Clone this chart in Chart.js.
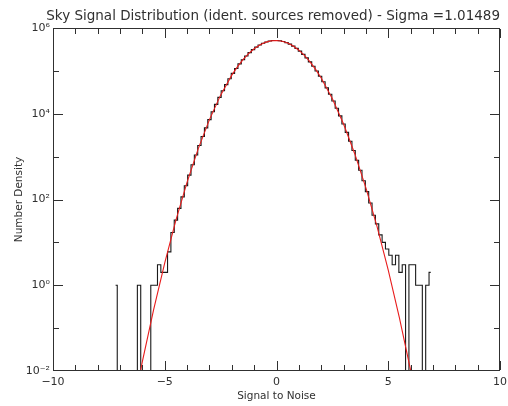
<!DOCTYPE html>
<html><head><meta charset="utf-8">
<script src="https://cdn.jsdelivr.net/npm/chart.js@4.4.0/dist/chart.umd.min.js"></script>
<style>html,body{margin:0;padding:0;background:#fff;}#wrap{width:508px;height:406px;position:relative;}</style>
</head><body><div id="wrap"><canvas id="c"></canvas></div>
<script>
const titleText = 'Sky Signal Distribution (ident. sources removed) - Sigma =1.01489';
const xAxisTitle = 'Signal to Noise';
const yAxisTitle = 'Number Density';

// histogram bins (centres start at binStart, spaced binWidth)
const binStart = -7.2;
const binWidth = 0.15;
const histCounts = [
  1, 0, 0, 0, 0, 0, 0, 1, 0, 0,
  0, 1, 1, 3, 2, 2, 6, 17, 33, 62,
  115, 209, 371, 644, 1093, 1815, 2949, 4690, 7295, 11104,
  16539, 24095, 34350, 47890, 65370, 87300, 114020, 145750, 182300, 222970,
  266900, 312600, 358200, 401500, 440500, 472600, 496300, 509800, 512400, 503900,
  484800, 456400, 420400, 378800, 334000, 288100, 243100, 200800, 162300, 128200,
  99150, 75060, 55550, 40240, 28510, 19760, 13410, 8900, 5779, 3672,
  2282, 1388, 826, 481, 274, 153, 83, 43, 27, 15,
  10, 7, 5, 3, 5, 2, 3, 0, 3, 3,
  1, 1, 0, 1, 2
];

// Gaussian fit curve
const fitX = [-6.5, -6, -5.5, -5, -4.5, -4, -3.5, -3, -2.5, -2, -1.75, -1.5, -1.25, -1, -0.75, -0.5, -0.25,
  0, 0.25, 0.5, 0.75, 1, 1.25, 1.5, 1.75, 2, 2.5, 3, 3.5, 4, 4.5, 5, 5.5, 6, 6.5];
const fitY = [0.00082, 0.0167, 0.267, 3.34, 32.9, 254, 1538, 7295, 27180, 79430, 124050, 182300, 252000, 327900, 401500, 462800, 502100,
  512500, 492400, 445100, 378800, 303400, 228700, 162300, 108300, 68030, 22390, 5781, 1170, 186, 23.2, 2.26, 0.174, 0.0105, 0.00049];

const xMin = -10, xMax = 10, xStep = 1;
const xLabelValues = [-10, -5, 0, 5, 10];
const yExponents = [-2, -1, 0, 1, 2, 3, 4, 5, 6];
const yLabelExponents = [-2, 0, 2, 4, 6];

const SUP = {'-':'\u207B','0':'\u2070','1':'\u00B9','2':'\u00B2','3':'\u00B3','4':'\u2074','5':'\u2075','6':'\u2076','7':'\u2077','8':'\u2078','9':'\u2079'};
const sup = e => String(e).split('').map(c => SUP[c]).join('');
const fmtX = v => v < 0 ? '\u2212' + Math.abs(v) : String(v);

const histData = histCounts.map((c, i) => ({x: +(binStart + i * binWidth).toFixed(3), y: c > 0 ? c : 1e-4}));
const fitData = fitX.map((x, i) => ({x: x, y: fitY[i]}));

const AX = '#303030';
const FONT = 'DejaVu Sans';

const frameTicks = {
  id: 'frameTicks',
  afterDraw(chart) {
    const {ctx, chartArea: a, scales: {x, y}} = chart;
    ctx.save();
    ctx.fillStyle = AX;
    const L = Math.round(a.left), R = Math.round(a.right) - 1;
    const T = Math.round(a.top), B = Math.round(a.bottom) - 1;
    ctx.fillRect(L, T, R - L + 1, 1);
    ctx.fillRect(L, B, R - L + 1, 1);
    ctx.fillRect(L, T, 1, B - T + 1);
    ctx.fillRect(R, T, 1, B - T + 1);
    x.ticks.forEach(t => {
      const px = Math.round(x.getPixelForValue(t.value));
      const len = xLabelValues.includes(t.value) ? 9 : 5;
      ctx.fillRect(px, B - len, 1, len);
      ctx.fillRect(px, T + 1, 1, len);
    });
    y.ticks.forEach(t => {
      const py = Math.min(B, Math.round(y.getPixelForValue(t.value)));
      const e = Math.round(Math.log10(t.value));
      const len = yLabelExponents.includes(e) ? 9 : 5;
      ctx.fillRect(L + 1, py, len, 1);
      ctx.fillRect(R - len, py, len, 1);
    });
    ctx.restore();
  }
};

new Chart(document.getElementById('c'), {
  type: 'line',
  data: {
    datasets: [
      {label: 'fit', data: fitData, borderColor: 'rgb(232,28,28)', borderWidth: 1.1, pointRadius: 0, tension: 0, clip: 0},
      {label: 'histogram', data: histData, borderColor: '#1a1a1a', borderWidth: 1.1, pointRadius: 0, stepped: 'middle', clip: 0}
    ]
  },
  options: {
    responsive: true,
    maintainAspectRatio: false,
    animation: false,
    layout: {padding: {left: 0, right: 8, top: 0, bottom: 0}},
    plugins: {
      legend: {display: false},
      tooltip: {enabled: false},
      title: {display: true, text: titleText, align: 'end', color: AX,
        font: {family: FONT, size: 13.5, weight: 'normal'}, padding: {top: 8, bottom: 3.8}}
    },
    scales: {
      x: {
        type: 'linear', min: xMin, max: xMax,
        grid: {display: false, drawTicks: false}, border: {display: false},
        ticks: {stepSize: xStep, autoSkip: false, maxRotation: 0, padding: 5, color: AX,
          font: {family: FONT, size: 11},
          callback: v => xLabelValues.includes(v) ? fmtX(v) : ''},
        title: {display: true, text: xAxisTitle, color: AX, font: {family: FONT, size: 10.5}, padding: {top: 0, bottom: 3.5}},
        afterFit: s => { s.height = 35; s.paddingLeft = 0; s.paddingRight = 0; }
      },
      y: {
        type: 'logarithmic', min: 0.01, max: 1e6,
        grid: {display: false, drawTicks: false}, border: {display: false},
        afterBuildTicks: s => { s.ticks = yExponents.map(e => ({value: Math.pow(10, e)})); },
        ticks: {autoSkip: false, padding: 3, color: AX, font: {family: FONT, size: 11},
          callback: v => { const e = Math.round(Math.log10(v)); return yLabelExponents.includes(e) ? '10' + sup(e) : ''; }},
        title: {display: true, text: yAxisTitle, color: AX, font: {family: FONT, size: 10.5}, padding: {top: 12.5, bottom: 0}},
        afterFit: s => { s.width = 53; s.paddingTop = 0; s.paddingBottom = 0; }
      }
    }
  },
  plugins: [frameTicks]
});
</script>
</body></html>
